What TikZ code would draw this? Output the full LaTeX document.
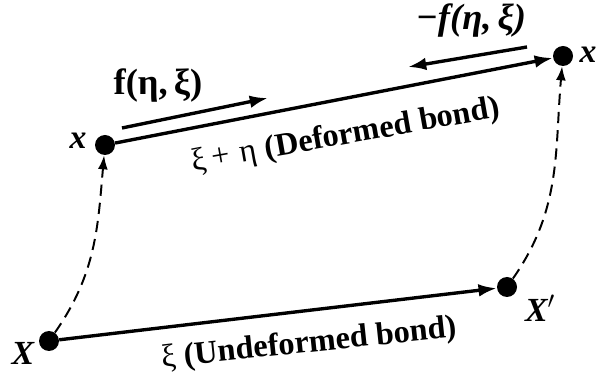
\documentclass[tikz,border=0pt]{standalone}
\usepackage{fontspec}
\setmainfont{Liberation Serif}[
  UprightFont={Liberation Serif},
  BoldFont={Liberation Serif Bold},
  ItalicFont={Liberation Serif Italic},
  BoldItalicFont={Liberation Serif Bold Italic}]
\usepackage{tikz}
\usetikzlibrary{arrows.meta}

\tikzset{
  dot/.style={circle, fill, inner sep=0pt, minimum size=0.5cm},
  bond/.style={line width=2.4pt},
  disp/.style={line width=1.4pt, dash pattern=on 8pt off 5pt,
    -{Latex[length=10pt,width=7pt]}},
  lbl/.style={font=\fontsize{24}{28}\selectfont\bfseries\itshape, inner sep=1pt},
  bondlbl/.style={font=\fontsize{23}{27}\selectfont, inner sep=1pt}
}

\begin{document}
\begin{tikzpicture}[>={Latex[length=13pt,width=9pt]}]
    \useasboundingbox (0,0) rectangle (14.95,9.325);
    % points
    \node[dot] (X) at (1.225, 0.8) {};
    \node[dot] (Xp) at (12.675, 2.15) {};
    \node[dot] (xl) at (2.625, 5.7) {};
    \node[dot] (xr) at (14.075, 7.925) {};
    \node[lbl] (labX) at (0.575, 0.5) {X};
    \node[lbl] (labXp) at (13.5, 1.625) {X$'$};
    \node[lbl] (labxl) at (1.95, 5.8) {x};
    \node[lbl] (labxr) at (14.7, 7.95) {x};
    % bonds
    \draw[bond, ->] (X) -- (Xp);
    \draw[bond, ->] (xl) -- (xr);
    \node[bondlbl, rotate=6] (undef) at (7.725, 0.72) {ξ \textbf{(Undeformed bond)}};
    \node[bondlbl, rotate=10] (def) at (8.65, 5.92) {ξ\,+\,\,η \textbf{(Deformed bond)}};
    % displacements
    \draw[disp] (X) to[out=55, in=-95] (xl);
    \draw[disp] (Xp) to[out=55, in=-95] (xr);
    % pair forces
    \coordinate (fa) at (3.05, 6.125);
    \coordinate (fb) at (6.7, 6.875);
    \coordinate (ga) at (13.175, 8.15);
    \coordinate (gb) at (10.2, 7.65);
    \draw[bond, ->] (fa) -- (fb);
    \draw[bond, ->] (ga) -- (gb);
    \node[font=\fontsize{26}{30}\selectfont\bfseries] (f) at (3.95, 7.175) {f(η,\,ξ)};
    \node[font=\fontsize{26}{30}\selectfont\bfseries\itshape] (mf) at (11.775, 8.8) {−f(η,\,ξ)};
\end{tikzpicture}
\end{document}
